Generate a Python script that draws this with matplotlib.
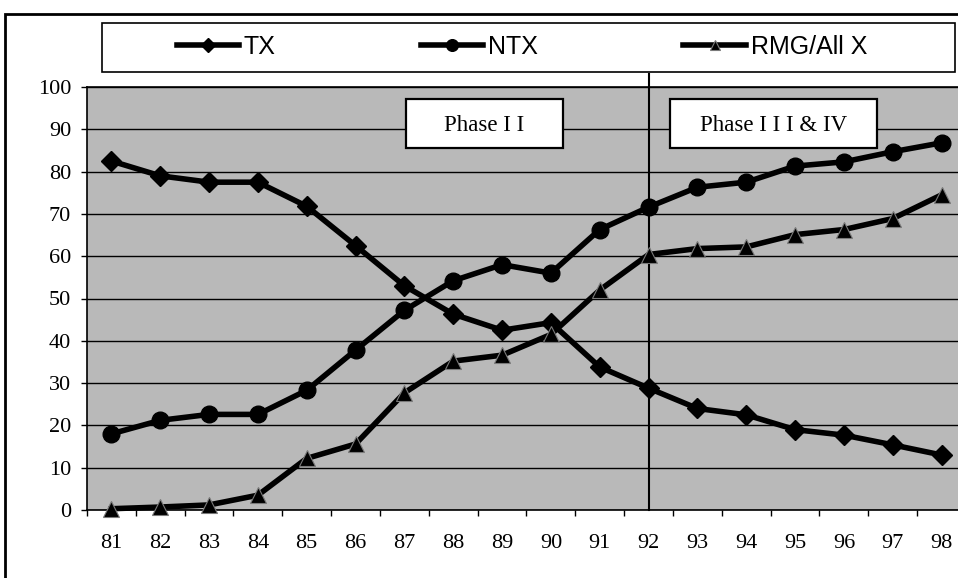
import matplotlib
matplotlib.use("Agg")
import matplotlib.pyplot as plt
from matplotlib.patches import Rectangle

years = ["81", "82", "83", "84", "85", "86", "87", "88", "89",
         "90", "91", "92", "93", "94", "95", "96", "97", "98"]
tx = [82.5, 79, 77.5, 77.5, 71.8, 62.5, 53, 46.3, 42.5, 44.3, 33.8, 28.8,
      24, 22.5, 19, 17.7, 15.4, 13]
ntx = [18, 21.2, 22.6, 22.6, 28.3, 37.8, 47.2, 54.2, 58, 56, 66.3, 71.6,
       76.3, 77.5, 81.3, 82.3, 84.7, 86.8]
rmg = [0.3, 0.7, 1.2, 3.5, 12.2, 15.6, 27.7, 35.2, 36.6, 41.5, 52, 60.4,
       61.8, 62.2, 65.1, 66.3, 68.9, 74.5]
yticks = [0, 10, 20, 30, 40, 50, 60, 70, 80, 90, 100]
phase_line_year = "92"
phase_labels = ["Phase I I", "Phase I I I & IV"]

serif = ["Liberation Serif", "DejaVu Serif"]
sans = ["Liberation Sans", "DejaVu Sans"]

fig = plt.figure(figsize=(9.58, 5.78), dpi=100)
W, H = 958, 578
L, R, T, B = 87, 966, 87, 510
ax = fig.add_axes([L / W, 1 - B / H, (R - L) / W, (B - T) / H])
ax.set_facecolor("#b9b9b9")

x = list(range(len(years)))
lw = 4.0
ax.plot(x, tx, color="black", lw=lw, marker="D", ms=10.5, zorder=5, label="TX", clip_on=False)
ax.plot(x, ntx, color="black", lw=lw, marker="o", ms=12, zorder=5, label="NTX", clip_on=False)
ax.plot(x, rmg, color="black", lw=lw, marker="^", ms=11, markeredgecolor="#7a7a7a",
        markeredgewidth=0.8, zorder=5, label="RMG/All X", clip_on=False)

ax.set_xlim(-0.5, len(years) - 0.5)
ax.set_ylim(0, 100)
ax.set_yticks(yticks)
ax.set_yticklabels([str(v) for v in yticks], fontfamily=serif, fontsize=16)
ax.set_xticks([i - 0.5 for i in range(len(years) + 1)])
ax.set_xticklabels([])
ax.set_xticks(x, minor=True)
ax.set_xticklabels(years, minor=True, fontfamily=serif, fontsize=16)
ax.tick_params(axis="x", which="major", length=4, width=1, direction="out")
ax.tick_params(axis="x", which="minor", length=0, pad=17)
ax.tick_params(axis="y", length=4.5, width=1, direction="out", pad=7)
ax.grid(axis="y", color="black", lw=1)
ax.set_axisbelow(True)
for s in ["left", "bottom", "top"]:
    ax.spines[s].set_color("black")
    ax.spines[s].set_linewidth(1.2)
ax.spines["right"].set_visible(False)

# vertical phase divider
pidx = years.index(phase_line_year)
ax.plot([pidx, pidx], [0, (B - 74) / (B - T) * 100], color="black", lw=1.5,
        clip_on=False, zorder=4)

# phase label boxes (axes fraction coordinates)
def phase_box(x0, x1, label):
    fx0, fx1 = (x0 - L) / (R - L), (x1 - L) / (R - L)
    fy0, fy1 = (B - 148) / (B - T), (B - 99) / (B - T)
    ax.add_patch(Rectangle((fx0, fy0), fx1 - fx0, fy1 - fy0, transform=ax.transAxes,
                           fc="white", ec="black", lw=1.6, zorder=6))
    ax.text((fx0 + fx1) / 2, (fy0 + fy1) / 2 - 0.004, label, transform=ax.transAxes,
            fontfamily=serif, fontsize=16.5, ha="center", va="center", zorder=7)

phase_box(406, 563, phase_labels[0])
phase_box(670, 877, phase_labels[1])

# outer border
fig.patches.append(Rectangle((5 / W, -0.1), 1.2, 1 - 14 / H + 0.1, transform=fig.transFigure,
                             fill=False, ec="black", lw=2))
# legend box
fig.patches.append(Rectangle((102 / W, 1 - 72 / H), (955 - 102) / W, 49 / H,
                             transform=fig.transFigure, fill=False, ec="black", lw=1.2))
handles, labels = ax.get_legend_handles_labels()
leg = fig.legend(handles, labels, loc="center left", bbox_to_anchor=(164 / W, 1 - 47 / H),
                 ncol=3, frameon=False, borderpad=0, handlelength=2.5, handletextpad=0.2,
                 columnspacing=5.8, markerscale=0.7, prop={"family": sans, "size": 18})

fig.savefig("out.png", dpi=100)
